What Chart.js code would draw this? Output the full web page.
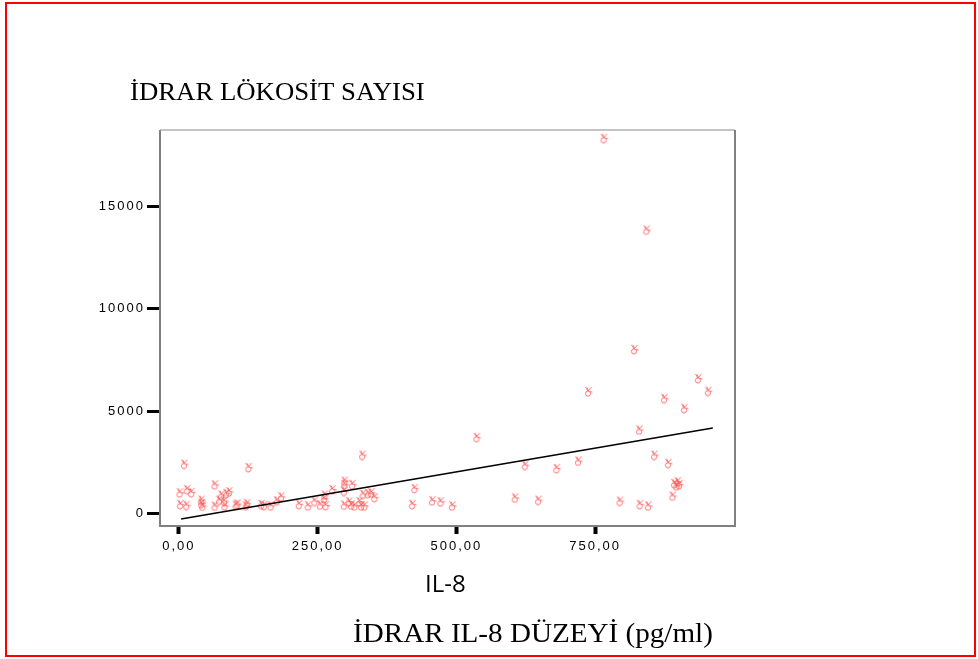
<!DOCTYPE html>
<html>
<head>
<meta charset="utf-8">
<script src="https://cdn.jsdelivr.net/npm/chart.js@4/dist/chart.umd.min.js"></script>
<style>
html,body{margin:0;padding:0;background:#fff;}
#wrap{position:relative;width:978px;height:659px;}
canvas{display:block;}
</style>
</head>
<body>
<div id="wrap"><canvas id="c" width="978" height="659"></canvas></div>
<script>
// IL-8 level (pg/ml)
const il8 = [10,126,2,15,23,65,3,14,41,41,43,65,77,86,91,73,82,83,103,106,123,121,149,154,166,177,185,217,233,
  331,245,255,265,263,262,277,299,299,298,313,298,307,311,317,326,329,335,332,341,347,353,425,421,457,472,493,
  766,843,821,738,936,954,875,911,830,537,857,882,624,720,681,893,899,902,897,890,606,648,795,831,846];
// urinary leukocyte count
const leuko = [2410,2250,1010,1170,1030,1400,440,400,650,490,360,360,900,980,1060,650,600,370,410,460,490,370,440,390,370,620,810,440,370,
  2850,600,410,390,900,730,1170,1580,1420,1090,1420,410,570,410,370,570,370,370,940,980,1010,780,1220,440,620,570,370,
  18350,13860,8020,5950,6600,5980,5630,5140,4080,3720,2850,2450,2360,2560,2200,1470,1550,1420,1350,850,760,650,600,440,370];
// fitted line end points
const fitX = [4, 962];
const fitY = [-280, 4170];
// tick values
const xTicks = [0, 250, 500, 750];
const yTicks = [0, 5000, 10000, 15000];
const yTitle = 'İDRAR LÖKOSİT SAYISI';
const xVar = 'IL-8';
const xTitle = 'İDRAR IL-8 DÜZEYİ (pg/ml)';

const pts = il8.map((v, i) => ({x: v, y: leuko[i]}));
const fitPts = fitX.map((v, i) => ({x: v, y: fitY[i]}));

// marker glyph (small outlined "victory hand" shape)
const mk = document.createElement('canvas');
mk.width = 11; mk.height = 11;
const m = mk.getContext('2d');
m.strokeStyle = 'rgba(255,80,80,0.8)';
m.lineWidth = 1;
m.beginPath(); m.arc(5, 7.5, 2.6, 0, Math.PI * 2); m.stroke();
m.beginPath();
m.moveTo(2.5, 1); m.lineTo(5, 5); m.lineTo(8.5, 1);
m.moveTo(4, 1.5); m.lineTo(5.5, 4.5);
m.moveTo(7, 5.5); m.lineTo(9.5, 6);
m.stroke();

const decor = {
  id: 'decor',
  beforeDraw(chart) { chart.ctx.letterSpacing = '2px'; },
  afterDraw(chart) {
    const ctx = chart.ctx, a = chart.chartArea;
    ctx.save();
    ctx.letterSpacing = '0px';
    // frame of plot
    ctx.lineWidth = 1.5;
    ctx.strokeStyle = '#b0b0b0';
    ctx.beginPath(); ctx.moveTo(a.left, a.top); ctx.lineTo(a.right, a.top); ctx.stroke();
    ctx.lineWidth = 2;
    ctx.strokeStyle = '#808080';
    ctx.beginPath();
    ctx.moveTo(a.left, a.top); ctx.lineTo(a.left, a.bottom); ctx.lineTo(a.right, a.bottom); ctx.lineTo(a.right, a.top);
    ctx.stroke();
    // titles
    ctx.fillStyle = '#000';
    ctx.textAlign = 'left';
    ctx.textBaseline = 'alphabetic';
    ctx.save();
    ctx.translate(130, 100); ctx.scale(1.07, 1);
    ctx.font = '25px "Liberation Serif"';
    ctx.fillText(yTitle, 0, 0);
    ctx.restore();
    ctx.font = '24px "Open Sans"';
    ctx.fillText(xVar, 425, 592);
    ctx.save();
    ctx.translate(353, 642); ctx.scale(1.04, 1);
    ctx.font = '28px "Liberation Serif"';
    ctx.fillText(xTitle, 0, 0);
    ctx.restore();
    // outer red frame
    ctx.strokeStyle = '#ff0000';
    ctx.lineWidth = 2;
    ctx.strokeRect(6, 3, 969, 653);
    ctx.restore();
  }
};

new Chart(document.getElementById('c'), {
  type: 'scatter',
  data: {
    datasets: [
      {type: 'line', data: fitPts, borderColor: '#000', borderWidth: 1.6, pointRadius: 0, fill: false, tension: 0},
      {data: pts, pointStyle: mk, showLine: false}
    ]
  },
  options: {
    responsive: false,
    animation: false,
    devicePixelRatio: 1,
    layout: {padding: {left: 0, top: 130, right: 243, bottom: 93}},
    plugins: {legend: {display: false}, tooltip: {enabled: false}},
    scales: {
      x: {
        type: 'linear', min: -34, max: 1002,
        afterBuildTicks: s => { s.ticks = xTicks.map(v => ({value: v})); },
        afterFit: s => { s.height = 40; },
        ticks: {
          callback: v => v.toFixed(2).replace('.', ','),
          color: '#000', font: {family: 'Liberation Sans', size: 13}, padding: 5,
          maxRotation: 0, autoSkip: false
        },
        grid: {drawOnChartArea: false, drawTicks: true, tickLength: 8, tickWidth: 4, tickColor: '#000'},
        border: {display: false}
      },
      y: {
        type: 'linear', min: -621, max: 18752,
        afterBuildTicks: s => { s.ticks = yTicks.map(v => ({value: v})); },
        afterFit: s => { s.width = 160; },
        ticks: {
          callback: v => String(v),
          color: '#000', font: {family: 'Liberation Sans', size: 13}, padding: 2,
          autoSkip: false
        },
        grid: {drawOnChartArea: false, drawTicks: true, tickLength: 13, tickWidth: 3, tickColor: '#000'},
        border: {display: false}
      }
    }
  },
  plugins: [decor]
});
</script>
</body>
</html>
